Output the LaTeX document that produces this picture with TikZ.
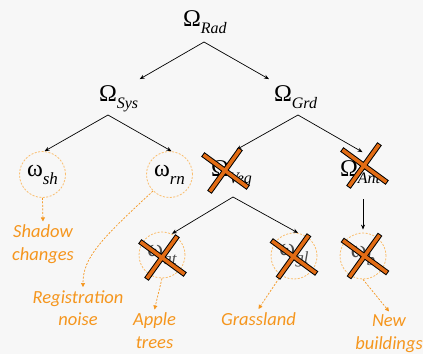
\documentclass[tikz,border=0pt]{standalone}
\usepackage{fontspec}
\setmainfont{Liberation Serif}
\newfontfamily\lblfont{Carlito}
\usetikzlibrary{arrows.meta}
\definecolor{bgcol}{RGB}{247,247,247}
\definecolor{lblorange}{RGB}{245,150,30}
\definecolor{ringorange}{RGB}{250,190,110}
\definecolor{xorange}{RGB}{226,108,20}
% large Greek symbol and its lowered italic index
\newcommand\bigsym[1]{{\fontsize{24}{24}\selectfont #1}}
\newcommand\subtxt[3]{\raisebox{-#1}{\fontsize{#2}{#2}\selectfont\itshape #3}}
\tikzset{
  strike/.pic={
    \draw[line width=5.5pt, line cap=rect, black] (-20,-14) -- (21,16) (14,-19) -- (-14,20);
    \draw[line width=3.5pt, line cap=rect, xorange] (-20,-14) -- (21,16) (14,-19) -- (-14,20);
  }
}
\begin{document}
\begin{tikzpicture}[x=1pt,y=-1pt,
  omega/.style={inner sep=0pt, outer xsep=0pt, outer ysep=6pt, anchor=base west},
  ring/.style={circle, draw=ringorange, line width=0.8pt, dash pattern=on 2pt off 1.5pt,
               minimum size=46pt, inner sep=0pt},
  arr/.style={-{Stealth[length=5pt,width=4pt]}, line width=0.7pt},
  oarr/.style={draw=lblorange, line width=0.7pt, dash pattern=on 2pt off 1.5pt,
               -{Triangle[length=4pt,width=4pt]}},
  lbl/.style={text=lblorange, font=\lblfont\itshape\fontsize{18.5}{22.5}\selectfont,
              align=center, inner sep=3pt}
]
\fill[bgcol] (0,0) rectangle (423,354);
\useasboundingbox (0,0) rectangle (423,354);

% Omega hierarchy
\node[omega] (rad) at (183,26)  {\bigsym{Ω}\subtxt{7pt}{16}{Rad}};
\node[omega] (sys) at (99,101)  {\bigsym{Ω}\subtxt{7pt}{16}{Sys}};
\node[omega] (grd) at (274,101) {\bigsym{Ω}\subtxt{7pt}{16}{Grd}};
\node[omega] (veg) at (211,176.5) {\bigsym{Ω}\subtxt{7pt}{16}{Veg}};
\node[omega] (ant) at (340,176) {\bigsym{Ω}\subtxt{7pt}{16}{Ant}};

% leaf classes
\node[ring] (sh) at (42.5,174.5) {\bigsym{ω}\subtxt{8pt}{17}{sh}};
\node[ring] (rn) at (169.5,174.5) {\bigsym{ω}\subtxt{8pt}{17}{rn}};
\node[ring, text=black!70] (at) at (162,255) {\bigsym{ω}\subtxt{8pt}{17}{at}};
\node[ring, text=black!70] (gl) at (294,256) {\bigsym{ω}\subtxt{8pt}{17}{gl}};
\node[ring, text=black!70] (b)  at (363,256) {\bigsym{ω}\subtxt{8pt}{17}{b}};

% change labels (base anchor sits on the last line)
\node[lbl, anchor=base] (shadow) at (43,260) {Shadow\\changes};
\node[lbl, anchor=base] (reg) at (78,325.5) {Registration\\noise};
\node[lbl, anchor=base] (apple) at (154.5,348) {Apple\\trees};
\node[lbl, anchor=base] (grass) at (258.5,325) {Grassland};
\node[lbl, anchor=base] (new) at (389,349) {New\\buildings};

% tree branches
\coordinate (rad-fork) at (204,42);
\coordinate (sys-fork) at (108,115);
\coordinate (grd-fork) at (298,115);
\coordinate (veg-fork) at (233,197);
\coordinate (ant-fork) at (363,199);
\draw[arr] (rad-fork) -- ([xshift=1.5pt]sys.north east);
\draw[arr] (rad-fork) -- ([xshift=-5pt]grd.north west);
\draw[arr] (sys-fork) -- (sh.85);
\draw[arr] (sys-fork) -- (rn.85);
\draw[arr] (grd-fork) -- ([xshift=5pt,yshift=5pt]veg.north);
\draw[arr] (grd-fork) -- ([xshift=2.5pt,yshift=2pt]ant.north);
\draw[arr] (veg-fork) -- (at.65);
\draw[arr] (veg-fork) -- (gl.80);
\draw[arr] (ant-fork) -- ([yshift=3pt]b.north);

% links to labels
\draw[oarr] (sh.south) -- (shadow.north);
\draw[oarr] (rn.225) .. controls (100,240) and (83,258) .. ([xshift=5pt]reg.north);
\draw[oarr] (at.south) -- (apple.north);
\draw[oarr] (gl.236) -- (grass.north);
\draw[oarr] (b.south) -- (new.north);

% struck-out classes
\pic at (225,170) {strike};
\pic at (364,165) {strike};
\pic at (162,257) {strike};
\pic at (293.5,256) {strike};
\pic at (364.5,255.5) {strike};
\end{tikzpicture}
\end{document}
